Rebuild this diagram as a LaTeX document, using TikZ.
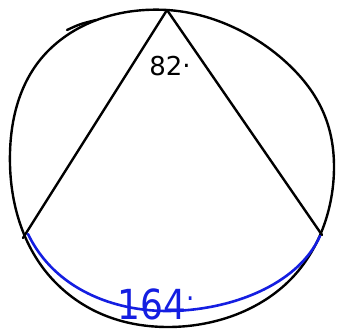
\documentclass[tikz,border=0pt]{standalone}
\usepackage{fontspec}
\setmainfont{DejaVu Sans}
\definecolor{pen}{RGB}{20,30,225}
\tikzset{
  ink/.style={line width=2.4pt, line cap=round, line join=round, black},
  blueink/.style={line width=2.6pt, line cap=round, line join=round, pen},
  lbl/.style={inner sep=0pt, font=\fontsize{26}{26}\selectfont},
}
\begin{document}
\begin{tikzpicture}[x=1pt,y=-1pt]
\useasboundingbox (0,0) rectangle (337,331);
\coordinate (A) at (167,10);
\coordinate (B) at (23,238);
\coordinate (C) at (322,235);
\coordinate (T1) at (67,30);
\coordinate (T2) at (96,20);
% hand-drawn circle
\draw[ink] plot[smooth cycle, tension=0.68] coordinates {
  (167,10) (288,64) (334,167) (288,282) (168,327) (55,282) (10,165) (49,50)};
\draw[ink] (T1) .. controls (80,24) .. (T2);
% chords
\draw[ink] (B) -- (A) -- (C);
% intercepted arc
\draw[blueink] (28,234) .. controls (55,290) and (115,311) .. (167,311)
  .. controls (230,311) and (298,285) .. (320,236);
% labels
\node[lbl] (ang) at (170,66) {82\raisebox{0.3em}{.}};
\node[lbl, pen, font=\fontsize{36}{36}\selectfont, yscale=1.15] (arc) at (156,304) {164\raisebox{0.45em}{\fontsize{26}{26}\selectfont.}};
\end{tikzpicture}
\end{document}
